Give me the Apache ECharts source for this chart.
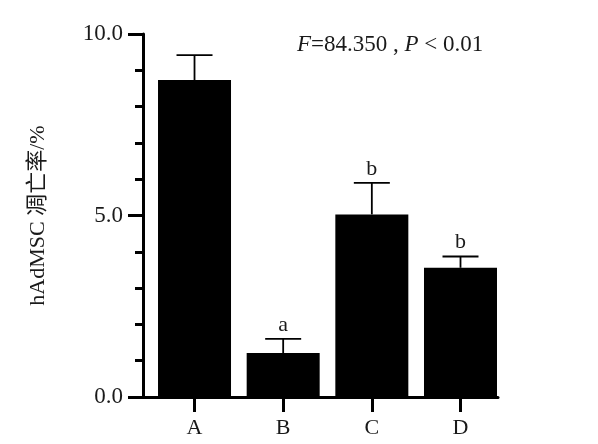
<!DOCTYPE html>
<html>
<head>
<meta charset="utf-8">
<script src="https://cdn.jsdelivr.net/npm/echarts@6/dist/echarts.min.js"></script>
<style>html,body{margin:0;padding:0;background:#fff;}#c{width:598px;height:444px;}</style>
</head>
<body>
<div id="c"></div>
<script>
var categories = ['A', 'B', 'C', 'D'];
var means = [8.73, 1.21, 5.03, 3.56];
var sds = [0.69, 0.39, 0.87, 0.31];
var sigLetters = ['', 'a', 'b', 'b'];
var yTicks = [0, 5, 10];

var serif = '"Liberation Serif", "Times New Roman", "Noto Sans CJK SC", serif';
var chart = echarts.init(document.getElementById('c'));
var positions = categories.map(function (c, i) { return i; });

chart.setOption({
  animation: false,
  backgroundColor: '#fff',
  title: {
    left: 297, top: 33, padding: 0,
    text: '{i|F}=84.350 , {i|P} < 0.01',
    textStyle: {
      fontFamily: serif, fontSize: 23, fontWeight: 'normal', color: '#1a1a1a',
      rich: { i: { fontFamily: serif, fontStyle: 'italic', fontSize: 23, color: '#1a1a1a' } }
    }
  },
  grid: { left: 143, right: 100, top: 34, bottom: 47 },
  xAxis: {
    type: 'value', min: -0.581, max: 3.423,
    splitLine: { show: false },
    axisLine: { show: true, onZero: false, lineStyle: { color: '#000', width: 3 } },
    axisTick: { show: true, length: 15, lineStyle: { color: '#000', width: 3 }, customValues: positions },
    axisLabel: {
      show: true, margin: 20, color: '#1a1a1a', fontFamily: serif, fontSize: 22,
      customValues: positions,
      formatter: function (v) { return categories[Math.round(v)]; }
    }
  },
  yAxis: {
    type: 'value', min: yTicks[0], max: yTicks[yTicks.length - 1], interval: 5,
    name: 'hAdMSC 凋亡率/%', nameLocation: 'middle', nameRotate: 90, nameGap: 94,
    nameTextStyle: { fontFamily: serif, fontSize: 22, color: '#1a1a1a' },
    splitLine: { show: false },
    axisLine: { show: true, onZero: false, lineStyle: { color: '#000', width: 3 } },
    axisTick: { show: true, length: 15, lineStyle: { color: '#000', width: 3 } },
    minorTick: { show: true, splitNumber: 5, length: 8, lineStyle: { color: '#000', width: 3 } },
    axisLabel: {
      margin: 20, color: '#1a1a1a', fontFamily: serif, fontSize: 23,
      formatter: function (v) { return v.toFixed(1); }
    }
  },
  series: [
    {
      type: 'bar', barWidth: 73,
      itemStyle: { color: '#000' },
      data: positions.map(function (p, i) { return [p, means[i]]; }),
      z: 2
    },
    {
      type: 'custom',
      data: positions.map(function (p, i) { return [p, means[i], sds[i], i]; }),
      renderItem: function (params, api) {
        var x = api.value(0), m = api.value(1), s = api.value(2), idx = api.value(3);
        var top = api.coord([x, m]);
        var cap = api.coord([x, m + s]);
        var hw = 18;
        var children = [
          { type: 'line', shape: { x1: top[0], y1: top[1], x2: cap[0], y2: cap[1] }, style: { stroke: '#000', lineWidth: 1.8 } },
          { type: 'line', shape: { x1: cap[0] - hw, y1: cap[1], x2: cap[0] + hw, y2: cap[1] }, style: { stroke: '#000', lineWidth: 1.8 } }
        ];
        var letter = sigLetters[idx];
        if (letter) {
          children.push({
            type: 'text',
            style: { text: letter, x: cap[0], y: cap[1] - 14, align: 'center', verticalAlign: 'middle', fontFamily: serif, fontSize: 22, fill: '#1a1a1a' }
          });
        }
        return { type: 'group', children: children };
      },
      z: 3
    }
  ]
});
</script>
</body>
</html>
